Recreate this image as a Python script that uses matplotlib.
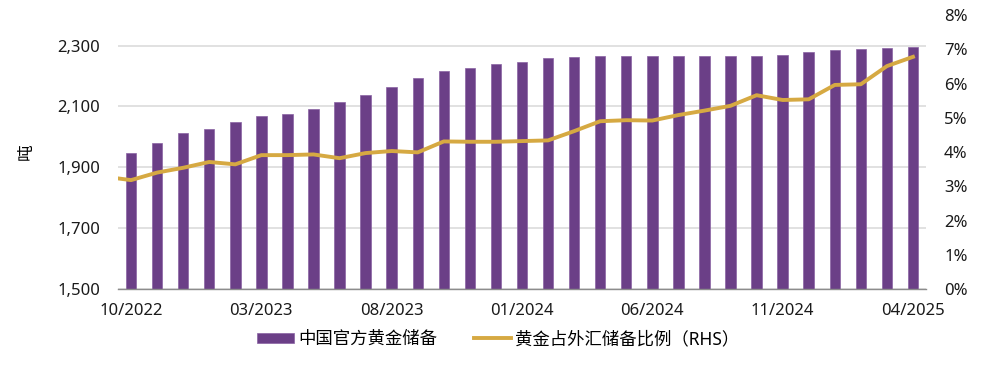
import numpy as np
import matplotlib
matplotlib.use("Agg")
import matplotlib.pyplot as plt
from matplotlib.ticker import FuncFormatter, MultipleLocator

plt.rcParams['font.family'] = ['Noto Sans', 'Noto Sans CJK SC', 'DejaVu Sans']

# Months 10/2022 .. 04/2025
months = ["10/2022", "11/2022", "12/2022", "01/2023", "02/2023", "03/2023", "04/2023",
          "05/2023", "06/2023", "07/2023", "08/2023", "09/2023", "10/2023", "11/2023",
          "12/2023", "01/2024", "02/2024", "03/2024", "04/2024", "05/2024", "06/2024",
          "07/2024", "08/2024", "09/2024", "10/2024", "11/2024", "12/2024", "01/2025",
          "02/2025", "03/2025", "04/2025"]

# China official gold reserves (tonnes)
reserves = [1948, 1980, 2011, 2025, 2050, 2068, 2076, 2092, 2113, 2136, 2165, 2192,
            2215, 2227, 2238, 2246, 2259, 2263, 2264, 2264, 2264, 2264, 2264, 2264,
            2264, 2270, 2279, 2286, 2290, 2293, 2296]

# Gold share of FX reserves (%), first value is 09/2022 (clipped at left edge)
share_prev = 3.28
share = [3.18, 3.40, 3.54, 3.71, 3.64, 3.91, 3.91, 3.93, 3.82, 3.97, 4.03, 3.99,
         4.31, 4.30, 4.30, 4.32, 4.34, 4.61, 4.90, 4.93, 4.92, 5.08, 5.21, 5.35,
         5.66, 5.52, 5.54, 5.96, 5.98, 6.51, 6.78]

label_bar = "中国官方黄金储备"
label_line = "黄金占外汇储备比例（RHS）"
ylabel = "吨"

purple = "#6B3F87"
gold = "#D6A942"

fig = plt.figure(figsize=(10, 3.68), dpi=100)
ax = fig.add_axes([0.118, 0.2147, 0.808, 0.7443])
n = len(months)
x = np.arange(n)

ax.bar(x, reserves, width=0.4, color=purple, edgecolor="#8A62A3", linewidth=0.5,
       zorder=3, label=label_bar)
ax.set_ylim(1500, 2400)
ax.set_xlim(-0.5, n - 0.5)
ax.set_yticks([1500, 1700, 1900, 2100, 2300])
ax.yaxis.set_major_formatter(FuncFormatter(lambda v, p: f"{int(v):,}"))
ax.grid(axis="y", color="#DCDCDC", linewidth=1.2, zorder=0)
ax.set_axisbelow(True)
for s in ["top", "right", "left"]:
    ax.spines[s].set_visible(False)
ax.spines["bottom"].set_color("#8C8C8C")
ax.spines["bottom"].set_linewidth(1.0)
ax.spines["bottom"].set_zorder(4)
ax.tick_params(axis="y", length=0, pad=13, labelsize=12, colors="#1a1a1a")
ticks = list(range(0, n, 5))
ax.set_xticks(ticks)
ax.set_xticklabels([months[i] for i in ticks])
ax.tick_params(axis="x", length=0, pad=10, labelsize=12, colors="#1a1a1a")
ax.set_ylabel(ylabel, fontsize=12, family=['Noto Sans CJK SC'])
ax.yaxis.set_label_coords(-0.103, 0.5)

ax2 = ax.twinx()
xl = np.arange(-1, n)
ax2.plot(xl, [share_prev] + share, color=gold, linewidth=2.8, solid_joinstyle="round",
         label=label_line, zorder=5)
ax2.set_ylim(0, 8)
ax2.set_xlim(-0.5, n - 0.5)
ax2.yaxis.set_major_locator(MultipleLocator(1))
ax2.yaxis.set_major_formatter(FuncFormatter(lambda v, p: f"{int(round(v))}%"))
for s in ["top", "right", "left", "bottom"]:
    ax2.spines[s].set_visible(False)
ax2.tick_params(axis="y", length=0, pad=13, labelsize=12, colors="#1a1a1a")

h1, l1 = ax.get_legend_handles_labels()
h2, l2 = ax2.get_legend_handles_labels()
fig.legend(h1 + h2, l1 + l2, loc="center", bbox_to_anchor=(0.4985, 0.079), ncol=2,
           frameon=False, fontsize=12.5, handlelength=2.1, handleheight=0.56,
           columnspacing=2.1, handletextpad=0.28)

fig.savefig("out.png", dpi=100)
